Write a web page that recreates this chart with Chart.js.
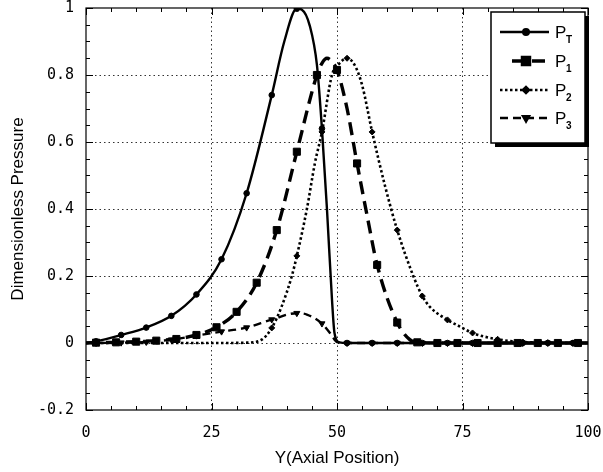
<!DOCTYPE html>
<html>
<head>
<meta charset="utf-8">
<script src="https://cdn.jsdelivr.net/npm/chart.js@4/dist/chart.umd.min.js"></script>
<style>
    html, body { margin: 0; padding: 0; background: #fff; }
    canvas { display: block; }
</style>
</head>
<body>
<canvas id="pressureChart" width="603" height="472"></canvas>
<script>
// Values (x = axial position, y = dimensionless pressure)
const ptX = [0, 2, 7, 12, 17, 22, 27, 32, 37, 39.5, 42, 43, 44.6, 46, 47, 48, 49, 49.5, 50.5, 52, 57, 62, 67, 72, 77, 82, 87, 92, 97, 100];
const ptY = [0, 0.005, 0.024, 0.046, 0.081, 0.145, 0.25, 0.447, 0.74, 0.9, 0.998, 0.995, 0.946, 0.83, 0.64, 0.4, 0.13, 0.03, 0.002, 0, 0, 0, 0, 0, 0, 0, 0, 0, 0, 0];

const p1X = [0, 2, 6, 10, 14, 18, 22, 26, 30, 34, 38, 42, 46, 47, 48, 49, 50, 52, 54, 56, 58, 62, 64.5, 66, 70, 74, 78, 82, 86, 90, 94, 98, 100];
const p1Y = [0, 0.001, 0.002, 0.004, 0.007, 0.012, 0.024, 0.047, 0.093, 0.18, 0.337, 0.571, 0.8, 0.835, 0.85, 0.84, 0.815, 0.7, 0.536, 0.38, 0.233, 0.061, 0.01, 0.002, 0, 0, 0, 0, 0, 0, 0, 0, 0];

const p2X = [0, 2, 7, 12, 17, 22, 27, 32, 35, 37, 39, 41, 42, 44, 45.6, 47, 49, 50.5, 52, 53.5, 55, 57, 59.6, 62, 65.2, 67, 68.5, 72, 74.5, 77, 82, 87, 92, 97, 100];
const p2Y = [0, 0, 0, 0, 0, 0, 0, 0.001, 0.01, 0.045, 0.11, 0.2, 0.26, 0.4, 0.537, 0.63, 0.8, 0.835, 0.85, 0.83, 0.77, 0.63, 0.467, 0.337, 0.2, 0.14, 0.108, 0.069, 0.049, 0.03, 0.011, 0.003, 0.001, 0, 0];

const p3X = [0, 2, 7, 12, 17, 22, 27, 32, 37, 42, 44, 47, 48.9, 50, 52, 57, 62, 67, 72, 77, 82, 87, 92, 97, 100];
const p3Y = [0, 0, 0.001, 0.003, 0.01, 0.022, 0.034, 0.046, 0.07, 0.089, 0.085, 0.058, 0.024, 0.003, 0, 0, 0, 0, 0, 0, 0, 0, 0, 0, 0];

// Where the symbols sit on each curve
const ptMarks = [2, 7, 12, 17, 22, 27, 32, 37, 42, 47, 52, 57, 62, 67, 72, 77, 82, 87, 92, 97];
const p1Marks = [2, 6, 10, 14, 18, 22, 26, 30, 34, 38, 42, 46, 50, 54, 58, 62, 66, 70, 74, 78, 82, 86, 90, 94, 98];
const p2Marks = [37, 42, 47, 52, 57, 62, 67, 72, 77, 82, 87, 92, 97];
const p3Marks = [2, 7, 12, 17, 22, 27, 32, 37, 42, 47, 52, 57, 62, 67, 72, 77, 82, 87, 92, 97];

const xTickLabels = [0, 25, 50, 75, 100];
const yTickLabels = [-0.2, 0, 0.2, 0.4, 0.6, 0.8, 1];

const tickFont = { family: '"DejaVu Sans Mono", monospace', size: 15 };
const titleFont = { family: '"Liberation Sans", Arial, sans-serif', size: 17 };

function toPoints(xs, ys) {
    return xs.map((x, i) => ({ x: x, y: ys[i] }));
}

function series(label, xs, ys, marks, style) {
    return {
        label: label,
        data: toPoints(xs, ys),
        borderColor: '#000',
        backgroundColor: '#000',
        borderWidth: style.width,
        borderDash: style.dash,
        cubicInterpolationMode: 'monotone',
        pointStyle: style.point,
        pointRotation: style.rotation || 0,
        pointRadius: ctx => marks.includes(ctx.raw.x) ? style.radius : 0,
        pointBorderWidth: 1,
        fill: false
    };
}

const seriesStyles = [
    { name: 'P', sub: 'T', width: 2.4, dash: [], point: 'circle', radius: 2.8 },
    { name: 'P', sub: '1', width: 3.4, dash: [13, 7], point: 'rect', radius: 5 },
    { name: 'P', sub: '2', width: 2.6, dash: [2.5, 2.5], point: 'rectRot', radius: 3 },
    { name: 'P', sub: '3', width: 2.4, dash: [8, 5], point: 'triangle', radius: 3.5, rotation: 180 }
];

function isMajor(value, step) {
    const r = value / step;
    return Math.abs(r - Math.round(r)) < 1e-6;
}

// keep the plot box exactly where the layout padding puts it
function noScalePadding(s) {
    s.paddingLeft = 0;
    s.paddingRight = 0;
    s.paddingTop = 0;
    s.paddingBottom = 0;
}

// Frame with inward ticks on all four sides
const frameTicks = {
    id: 'frameTicks',
    afterDatasetsDraw(chart) {
        const { ctx, chartArea: a, scales: { x, y } } = chart;
        ctx.save();
        ctx.strokeStyle = '#000';
        ctx.lineWidth = 1.2;
        ctx.setLineDash([]);
        ctx.strokeRect(a.left, a.top, a.right - a.left, a.bottom - a.top);
        ctx.lineWidth = 1;
        ctx.beginPath();
        for (let i = 0; i <= 20; i++) {
            const px = Math.round(x.getPixelForValue(i * 5)) + 0.5;
            const len = i % 5 === 0 ? 7 : 4;
            ctx.moveTo(px, a.bottom); ctx.lineTo(px, a.bottom - len);
            ctx.moveTo(px, a.top); ctx.lineTo(px, a.top + len);
        }
        for (let i = 0; i <= 24; i++) {
            const py = Math.round(y.getPixelForValue(-0.2 + i * 0.05)) + 0.5;
            const len = i % 4 === 0 ? 7 : 4;
            ctx.moveTo(a.left, py); ctx.lineTo(a.left + len, py);
            ctx.moveTo(a.right, py); ctx.lineTo(a.right - len, py);
        }
        ctx.stroke();
        ctx.restore();
    }
};

// Boxed legend with subscripted labels and a drop shadow
const boxLegend = {
    id: 'boxLegend',
    afterDraw(chart) {
        const ctx = chart.ctx;
        const bx = 491, by = 12, bw = 94, bh = 131;
        ctx.save();
        ctx.fillStyle = '#000';
        ctx.fillRect(bx + 4, by + 4, bw, bh);
        ctx.fillStyle = '#fff';
        ctx.fillRect(bx, by, bw, bh);
        ctx.strokeStyle = '#000';
        ctx.lineWidth = 1.5;
        ctx.strokeRect(bx, by, bw, bh);

        const rows = [32, 61, 90, 118];
        seriesStyles.forEach((s, i) => {
            const ly = rows[i];
            const x0 = i === 1 ? 512 : 500;
            ctx.strokeStyle = '#000';
            ctx.lineWidth = s.width;
            ctx.setLineDash(s.dash);
            ctx.beginPath();
            ctx.moveTo(x0, ly);
            ctx.lineTo(549, ly);
            ctx.stroke();
            ctx.setLineDash([]);
            ctx.fillStyle = '#000';
            Chart.helpers.drawPoint(ctx, {
                pointStyle: s.point,
                radius: s.radius,
                rotation: s.rotation || 0,
                borderWidth: 1
            }, 526, ly);
            ctx.fill();

            ctx.fillStyle = '#000';
            ctx.textBaseline = 'alphabetic';
            ctx.font = '17px "Liberation Sans", Arial, sans-serif';
            ctx.fillText(s.name, 555, ly + 6);
            ctx.font = 'bold 10px "Liberation Sans", Arial, sans-serif';
            ctx.fillText(s.sub, 566, ly + 11);
        });
        ctx.restore();
    }
};

const chartCtx = document.getElementById('pressureChart').getContext('2d');
const pressureChart = new Chart(chartCtx, {
    type: 'line',
    data: {
        datasets: [
            series('PT', ptX, ptY, ptMarks, seriesStyles[0]),
            series('P1', p1X, p1Y, p1Marks, seriesStyles[1]),
            series('P2', p2X, p2Y, p2Marks, seriesStyles[2]),
            series('P3', p3X, p3Y, p3Marks, seriesStyles[3])
        ]
    },
    options: {
        responsive: false,
        animation: false,
        events: [],
        layout: { padding: { top: 8, right: 15, left: 0, bottom: 0 } },
        plugins: {
            legend: { display: false },
            tooltip: { enabled: false }
        },
        scales: {
            x: {
                type: 'linear',
                min: 0,
                max: 100,
                afterFit: s => { s.height = 62; noScalePadding(s); },
                ticks: {
                    stepSize: 5,
                    autoSkip: false,
                    maxRotation: 0,
                    color: '#000',
                    font: tickFont,
                    padding: 14,
                    callback: v => xTickLabels.includes(v) ? String(v) : ''
                },
                grid: {
                    drawTicks: false,
                    lineWidth: 1,
                    color: ctx => (isMajor(ctx.tick.value, 25) && ctx.tick.value > 0 && ctx.tick.value < 100) ? '#333' : 'rgba(0,0,0,0)'
                },
                border: { display: false, dash: [1.5, 3] },
                title: {
                    display: true,
                    text: 'Y(Axial Position)',
                    color: '#000',
                    font: titleFont,
                    padding: { top: 0, bottom: 3 }
                }
            },
            y: {
                min: -0.2,
                max: 1,
                afterFit: s => { s.width = 86; noScalePadding(s); },
                ticks: {
                    stepSize: 0.05,
                    autoSkip: false,
                    color: '#000',
                    font: tickFont,
                    padding: 12,
                    callback: v => {
                        const hit = yTickLabels.find(t => Math.abs(t - v) < 1e-6);
                        if (hit === undefined) return '';
                        return Number.isInteger(hit) ? String(hit) : hit.toFixed(1);
                    }
                },
                grid: {
                    drawTicks: false,
                    lineWidth: 1,
                    color: ctx => (isMajor(ctx.tick.value, 0.2) && ctx.tick.value > -0.15 && ctx.tick.value < 0.95) ? '#333' : 'rgba(0,0,0,0)'
                },
                border: { display: false, dash: [1.5, 3] },
                title: {
                    display: true,
                    text: 'Dimensionless Pressure',
                    color: '#000',
                    font: titleFont,
                    padding: { top: 8, bottom: 0 }
                }
            }
        }
    },
    plugins: [frameTicks, boxLegend]
});
</script>
</body>
</html>
